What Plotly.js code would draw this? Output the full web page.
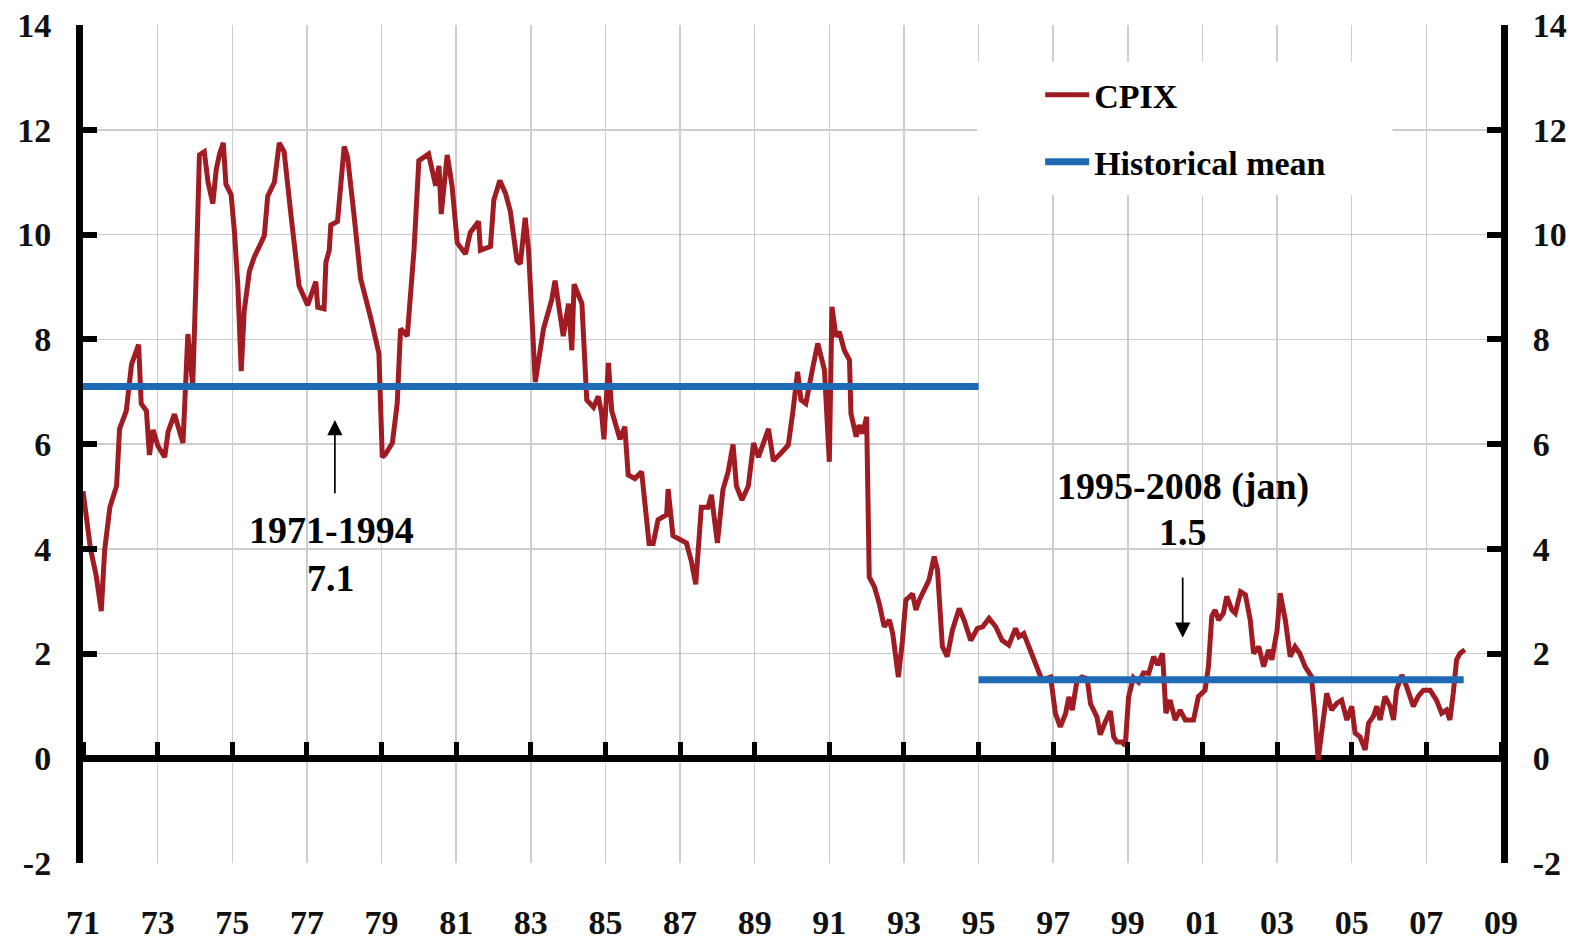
<!DOCTYPE html>
<html>
<head>
<meta charset="utf-8">
<script src="https://cdn.plot.ly/plotly-3.0.1.min.js"></script>
<style>html,body{margin:0;padding:0;background:#fff;}</style>
</head>
<body>
<div id="chart" style="width:1573px;height:940px;"></div>
<script>
// CPIX inflation (% y/y)
const cpixYears = [
1971.00,1971.20,1971.35,1971.49,1971.58,1971.72,1971.90,1971.98,1972.16,1972.30,1972.49,1972.56,1972.70,1972.78,1972.88,
1973.01,1973.19,1973.28,1973.45,1973.59,1973.68,1973.81,1973.94,1974.03,1974.12,1974.25,1974.35,1974.48,1974.57,1974.66,
1974.76,1974.83,1974.97,1975.06,1975.15,1975.24,1975.32,1975.46,1975.59,1975.77,1975.86,1975.95,1976.13,1976.26,1976.39,
1976.57,1976.79,1977.02,1977.24,1977.29,1977.46,1977.51,1977.60,1977.64,1977.82,1978.00,1978.09,1978.26,1978.44,1978.71,
1978.93,1979.02,1979.11,1979.29,1979.42,1979.51,1979.69,1979.78,1979.87,1980.00,1980.26,1980.45,1980.54,1980.60,1980.76,
1980.89,1981.03,1981.25,1981.38,1981.60,1981.65,1981.92,1982.01,1982.17,1982.32,1982.45,1982.63,1982.72,1982.85,1982.94,
1983.12,1983.34,1983.56,1983.65,1983.87,1984.01,1984.10,1984.16,1984.37,1984.50,1984.68,1984.81,1984.90,1984.96,1985.08,
1985.17,1985.30,1985.39,1985.52,1985.61,1985.79,1985.97,1986.03,1986.17,1986.28,1986.41,1986.64,1986.68,1986.81,1986.99,
1987.17,1987.30,1987.42,1987.57,1987.75,1987.84,1988.00,1988.15,1988.29,1988.42,1988.51,1988.66,1988.83,1988.97,1989.10,
1989.37,1989.50,1989.67,1989.90,1990.02,1990.15,1990.24,1990.37,1990.56,1990.69,1990.78,1990.87,1991.00,1991.07,1991.18,
1991.27,1991.40,1991.54,1991.58,1991.72,1991.80,1991.89,1992.00,1992.07,1992.21,1992.34,1992.47,1992.61,1992.70,1992.85,
1992.96,1993.05,1993.23,1993.32,1993.41,1993.54,1993.67,1993.81,1993.90,1994.03,1994.16,1994.30,1994.48,1994.61,1994.79,
1994.97,1995.11,1995.28,1995.46,1995.63,1995.81,1995.99,1996.08,1996.21,1996.39,1996.57,1996.70,1996.93,1997.06,1997.19,
1997.33,1997.42,1997.51,1997.64,1997.77,1997.91,1998.00,1998.17,1998.26,1998.40,1998.53,1998.62,1998.71,1998.84,1998.93,
1999.02,1999.15,1999.29,1999.42,1999.56,1999.69,1999.80,1999.93,2000.02,2000.13,2000.27,2000.40,2000.54,2000.76,2000.89,
2001.07,2001.16,2001.25,2001.34,2001.43,2001.56,2001.65,2001.79,2001.88,2002.02,2002.15,2002.28,2002.37,2002.51,2002.64,
2002.77,2002.86,2003.00,2003.08,2003.22,2003.35,2003.48,2003.61,2003.75,2003.92,2004.01,2004.10,2004.19,2004.33,2004.46,
2004.60,2004.73,2004.87,2005.00,2005.09,2005.22,2005.36,2005.45,2005.58,2005.67,2005.76,2005.89,2006.03,2006.12,2006.20,
2006.34,2006.47,2006.65,2006.78,2006.92,2007.10,2007.27,2007.41,2007.54,2007.63,2007.72,2007.81,2007.90,2008.03
];
const cpixValues = [
5.10,4.00,3.50,2.81,3.97,4.79,5.20,6.29,6.63,7.52,7.90,6.77,6.63,5.79,6.27,
5.96,5.75,6.23,6.57,6.23,6.02,8.10,7.11,9.16,11.52,11.58,11.00,10.59,11.24,11.54,
11.75,10.96,10.76,10.04,9.02,7.39,8.54,9.30,9.57,9.84,9.98,10.73,11.00,11.75,11.58,
10.39,9.02,8.65,9.10,8.61,8.58,9.47,9.70,10.18,10.25,11.68,11.48,10.39,9.16,8.41,
7.73,5.75,5.81,6.02,6.77,8.20,8.06,8.88,9.70,11.41,11.54,10.93,11.31,10.39,11.52,
10.93,9.84,9.63,10.04,10.25,9.70,9.77,10.66,11.03,10.79,10.45,9.50,9.44,10.32,9.70,
7.18,8.20,8.75,9.12,8.06,8.68,7.79,9.05,8.68,6.84,6.70,6.91,6.57,6.09,7.55,
6.63,6.29,6.09,6.33,5.41,5.34,5.47,5.06,4.10,4.10,4.55,4.65,5.14,4.25,4.18,
4.11,3.77,3.32,4.79,4.79,5.03,4.11,5.13,5.47,5.99,5.20,4.93,5.20,6.02,5.75,
6.29,5.68,5.80,5.98,6.60,7.38,6.84,6.77,7.47,7.92,7.67,7.41,5.66,8.62,8.05,
8.14,7.79,7.60,6.58,6.14,6.36,6.20,6.52,3.46,3.27,2.95,2.51,2.64,2.38,1.55,
2.25,3.02,3.14,2.83,3.02,3.21,3.40,3.85,3.59,2.13,1.94,2.45,2.86,2.64,2.25,
2.48,2.51,2.67,2.51,2.25,2.16,2.48,2.32,2.38,2.06,1.74,1.49,1.55,0.85,0.60,
0.85,1.17,0.92,1.49,1.55,1.52,1.04,0.79,0.45,0.70,0.90,0.41,0.31,0.31,0.24,
1.17,1.54,1.45,1.63,1.62,1.94,1.78,2.00,0.86,1.11,0.73,0.92,0.73,0.73,1.18,
1.30,1.75,2.71,2.83,2.64,2.77,3.09,2.83,2.77,3.18,3.12,2.64,2.00,2.13,1.75,
2.07,1.88,2.45,3.15,2.64,1.94,2.13,2.00,1.75,1.56,0.86,-0.03,0.48,1.24,0.92,
1.05,1.11,0.73,0.99,0.48,0.41,0.16,0.67,0.80,0.99,0.73,1.18,0.99,0.73,1.30,
1.59,1.37,0.99,1.18,1.30,1.30,1.11,0.86,0.92,0.73,1.24,1.88,2.00,2.07
];

// Historical means by period
const meanStart = [1971, 1995];
const meanEnd = [1995, 2008];
const meanValue = [7.1, 1.5];
const periodLabels = ['1971-1994', '1995-2008 (jan)'];

// Axis ticks
const xTickVals = [1971,1973,1975,1977,1979,1981,1983,1985,1987,1989,1991,1993,1995,1997,1999,2001,2003,2005,2007,2009];
const xTickText = ['71','73','75','77','79','81','83','85','87','89','91','93','95','97','99','01','03','05','07','09'];
const yTickVals = [-2,0,2,4,6,8,10,12,14];
const yTickText = ['-2','0','2','4','6','8','10','12','14'];

// build mean trace (segments separated by gaps)
const meanX = [], meanY = [];
meanStart.forEach((s, i) => {
  if (i > 0) { meanX.push(null); meanY.push(null); }
  meanX.push(s, meanEnd[i]);
  meanY.push(meanValue[i], meanValue[i]);
});

const FONT = 'Liberation Serif, Times New Roman, serif';
const tickFont = {family: FONT, size: 34, weight: 'bold', color: '#111'};
const annFont = {family: FONT, size: 38, weight: 'bold', color: '#000'};

const traces = [
  {x: cpixYears, y: cpixValues, type: 'scatter', mode: 'lines', name: 'CPIX',
   xaxis: 'x', yaxis: 'y',
   legendgroup: 'a', line: {color: 'rgb(160,28,34)', width: 5}, hoverinfo: 'skip'},
  {x: meanX, y: meanY, type: 'scatter', mode: 'lines', name: 'Historical mean',
   xaxis: 'x2', yaxis: 'y2',
   legendgroup: 'b', connectgaps: false, line: {color: 'rgb(31,106,180)', width: 7}, hoverinfo: 'skip'}
];

const gridC = '#cdcdcd';
const layout = {
  width: 1573, height: 940,
  margin: {l: 83, r: 72, t: 25, b: 77, pad: 0},
  paper_bgcolor: '#fff', plot_bgcolor: '#fff',
  showlegend: true,
  xaxis: {
    range: [1971, 2009], tickmode: 'array', tickvals: xTickVals, ticktext: xTickText,
    showgrid: true, gridcolor: gridC, gridwidth: 1.5, zeroline: false, showline: false,
    ticks: '', ticklabelstandoff: 36, tickfont: tickFont, fixedrange: true, automargin: false
  },
  xaxis2: {
    overlaying: 'x', anchor: 'free', position: 0.125, side: 'top',
    range: [1971, 2009], tickmode: 'array', tickvals: xTickVals,
    ticks: 'outside', ticklen: 16, tickwidth: 5, tickcolor: '#000',
    showticklabels: false, showgrid: false, zeroline: false, showline: false, automargin: false
  },
  yaxis: {
    range: [-2, 14], tickmode: 'array', tickvals: yTickVals, ticktext: yTickText,
    showgrid: true, gridcolor: gridC, gridwidth: 1.5,
    zeroline: true, zerolinecolor: '#000', zerolinewidth: 7,
    showline: true, linecolor: '#000', linewidth: 7,
    ticks: 'inside', ticklen: 14, tickwidth: 6, tickcolor: '#000',
    ticklabelstandoff: 18, tickfont: tickFont, fixedrange: true, automargin: false
  },
  yaxis2: {
    overlaying: 'y', side: 'right', anchor: 'x',
    range: [-2, 14], tickmode: 'array', tickvals: yTickVals, ticktext: yTickText,
    showgrid: false, zeroline: false,
    showline: true, linecolor: '#000', linewidth: 7,
    ticks: 'inside', ticklen: 14, tickwidth: 6, tickcolor: '#000',
    ticklabelstandoff: 18, tickfont: tickFont, automargin: false
  },
  legend: {
    x: 0.675, y: 0.951, xanchor: 'left', yanchor: 'top',
    bgcolor: 'rgba(0,0,0,0)', borderwidth: 0,
    font: {family: FONT, size: 34, weight: 'bold', color: '#000'},
    traceorder: 'grouped', tracegroupgap: 20, itemwidth: 44
  },
  shapes: [
    {type: 'rect', xref: 'paper', yref: 'paper', x0: 0.6305, x1: 0.9235, y0: 0.797, y1: 0.956,
     fillcolor: '#fff', line: {width: 0}, layer: 'above'}
  ],
  annotations: [
    {x: 1977.65, y: 4.36, xref: 'x', yref: 'y', text: periodLabels[0], showarrow: false, font: annFont},
    {x: 1977.65, y: 3.44, xref: 'x', yref: 'y', text: String(meanValue[0]), showarrow: false, font: annFont},
    {x: 1977.75, y: 6.46, xref: 'x', yref: 'y', ax: 1977.75, ay: 5.03, axref: 'x', ayref: 'y',
     text: '', showarrow: true, arrowhead: 2, arrowsize: 1.8, arrowwidth: 1.7, arrowcolor: '#000', standoff: 0},
    {x: 2000.47, y: 5.18, xref: 'x', yref: 'y', text: periodLabels[1], showarrow: false, font: annFont},
    {x: 2000.47, y: 4.32, xref: 'x', yref: 'y', text: String(meanValue[1]), showarrow: false, font: annFont},
    {x: 2000.47, y: 2.30, xref: 'x', yref: 'y', ax: 2000.47, ay: 3.48, axref: 'x', ayref: 'y',
     text: '', showarrow: true, arrowhead: 2, arrowsize: 1.8, arrowwidth: 1.7, arrowcolor: '#000', standoff: 0}
  ]
};

Plotly.newPlot('chart', traces, layout, {displayModeBar: false, staticPlot: true});
</script>
</body>
</html>
